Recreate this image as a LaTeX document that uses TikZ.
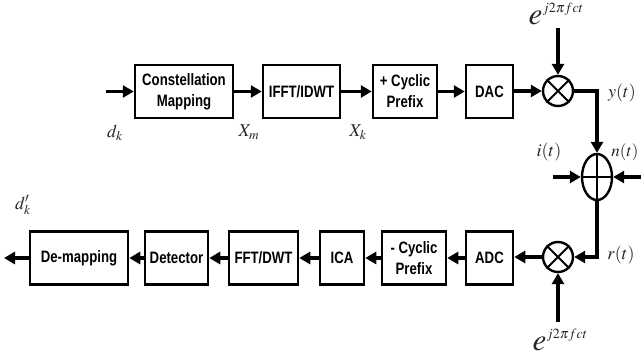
\documentclass[tikz,border=0pt]{standalone}
\usepackage{mathptmx}
\usepackage{fontspec}
\setmainfont{Liberation Serif}
\newfontfamily\blockfont[FakeStretch=0.8]{Liberation Sans}
\usetikzlibrary{arrows.meta,shapes.geometric}

\tikzset{
  block/.style={draw, line width=2.5pt, minimum height=53pt, inner sep=0pt,
    align=center, font=\blockfont\bfseries\fontsize{16.5}{21}\selectfont},
  sig/.style={line width=3.6pt, -{Triangle[length=11pt,width=12pt]}},
  mixer/.style={draw, circle, line width=2.4pt, minimum size=30pt, inner sep=0pt},
  adder/.style={draw, ellipse, line width=2.4pt, minimum width=30pt, minimum height=46pt, inner sep=0pt},
  cross/.style={line width=2pt},
  lbl/.style={font=\fontsize{18}{18}\selectfont, text=black!85},
}
\newcommand{\carrier}{{\fontsize{31}{31}\selectfont$e$}\raisebox{12pt}{\fontsize{14}{14}\selectfont$j2\pi fct$}}

\begin{document}
\begin{tikzpicture}[x=1pt, y=-1pt]
\useasboundingbox (0,0) rectangle (641,360);

% transmitter chain
\node[block, minimum width=98pt] (map)  at (184,91.5)   {Constellation\\Mapping};
\node[block, minimum width=77pt] (ifft) at (301.5,91.5) {IFFT/IDWT};
\node[block, minimum width=64pt] (cpa)  at (405,91.5)   {+ Cyclic\\Prefix};
\node[block, minimum width=47pt] (dac)  at (489.5,91.5) {DAC};
\node[mixer] (mul1) at (558,91) {};
\draw[cross] (mul1.north east) -- (mul1.south west) (mul1.north west) -- (mul1.south east);

% channel
\node[adder] (sum) at (597,177) {};
\draw[cross] (sum.north) -- (sum.south) (sum.west) -- (sum.east);

% receiver chain
\node[mixer] (mul2) at (558,257) {};
\draw[cross] (mul2.north east) -- (mul2.south west) (mul2.north west) -- (mul2.south east);
\node[block, minimum width=47pt] (adc)   at (489.5,258) {ADC};
\node[block, minimum width=64pt] (cpr)   at (414,258)   {- Cyclic\\Prefix};
\node[block, minimum width=44pt] (ica)   at (342,258)   {ICA};
\node[block, minimum width=69pt] (fft)   at (263.5,258) {FFT/DWT};
\node[block, minimum width=63pt] (det)   at (176.5,258) {Detector};
\node[block, minimum width=98pt] (demap) at (79,258)    {De-mapping};

% free ends
\coordinate (in)   at (106,91.5);
\coordinate (out)  at (4,258);
\coordinate (lo1)  at (558,28);
\coordinate (lo2)  at (558,322);
\coordinate (ifn)  at (553,177);
\coordinate (nse)  at (641,177);
\coordinate (tr)   at (597,91);
\coordinate (br)   at (597,257);

% transmitter connectors
\draw[sig] (in) -- (map.west);
\draw[sig] (map.east) -- (ifft.west);
\draw[sig] (ifft.east) -- (cpa.west);
\draw[sig] (cpa.east) -- (dac.west);
\draw[sig] (dac.east |- mul1) -- (mul1.west);
\draw[sig] (lo1) -- (mul1.north);
\draw[sig] (mul1.east) -- (tr) -- (sum.north);

% channel connectors
\draw[sig] (ifn) -- (sum.west);
\draw[sig] (nse) -- (sum.east);
\draw[sig] (sum.south) -- (br) -- (mul2.east);
\draw[sig] (lo2) -- (mul2.south);

% receiver connectors
\draw[sig] (mul2.west) -- (adc.east |- mul2);
\draw[sig] (adc.west) -- (cpr.east);
\draw[sig] (cpr.west) -- (ica.east);
\draw[sig] (ica.west) -- (fft.east);
\draw[sig] (fft.west) -- (det.east);
\draw[sig] (det.west) -- (demap.east);
\draw[sig] (demap.west) -- (out);

% signal labels
\node[lbl] (ldk)  at (115,133) {$d_k$};
\node[lbl] (lxm)  at (249,132) {$X_m$};
\node[lbl] (lxk)  at (358,132) {$X_k$};
\node[lbl] (lyt)  at (622,93)  {$y(t)$};
\node[lbl] (lit)  at (549,152) {$i(t)$};
\node[lbl, font=\fontsize{17}{17}\selectfont] (lnt) at (625,152) {$n(t)$};
\node[lbl] (lrt)  at (621,255) {$r(t)$};
\node[lbl] (ldo)  at (23,205)  {$d'_k$};
\node[text=black!85, inner sep=0pt] (lc1) at (556,14)  {\carrier};
\node[text=black!85, inner sep=0pt] (lc2) at (560,340) {\carrier};
\end{tikzpicture}
\end{document}
